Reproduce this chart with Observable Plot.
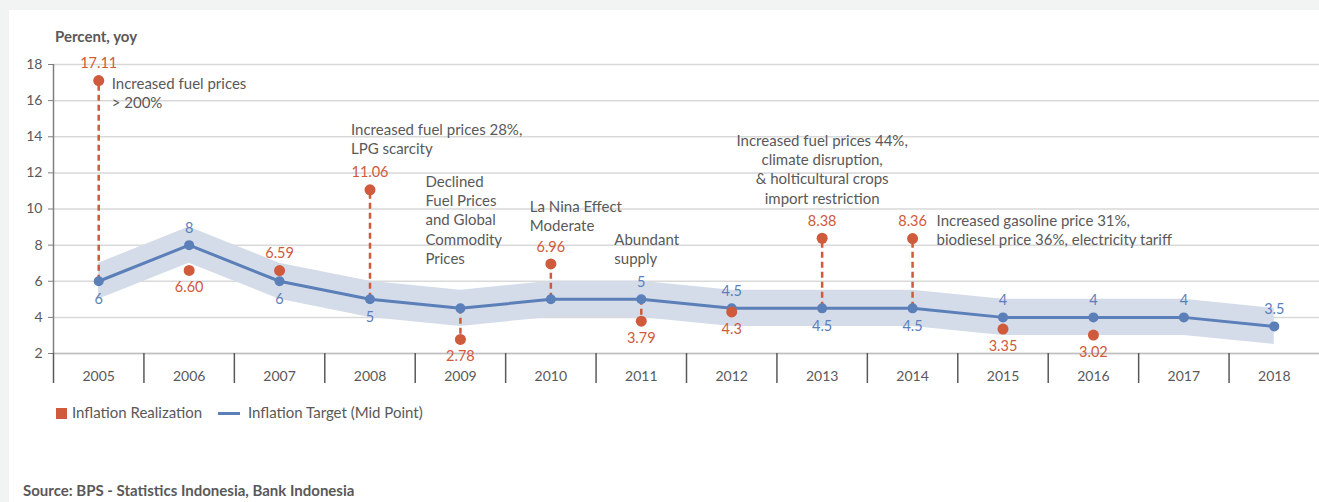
<!DOCTYPE html>
<html><head><meta charset="utf-8">
<script src="https://cdn.jsdelivr.net/npm/d3@7"></script>
<script src="https://cdn.jsdelivr.net/npm/@observablehq/plot@0.6"></script>
<style>
html,body{margin:0;overflow:hidden;}
body{background:#f2f4f4;font-family:Lato,"Open Sans",sans-serif;}
#wrap{position:relative;width:1319px;height:502px;overflow:hidden;}
#panel{position:absolute;left:9px;top:10px;width:1310px;height:492px;background:#fff;}
#chart{position:absolute;left:0;top:0;width:1319px;height:400px;}
#chart svg{max-width:none !important;display:block;}
.t{position:absolute;color:#595959;white-space:nowrap;line-height:1;}
.title{left:55px;top:29px;font-weight:bold;font-size:15px;}
.src{left:23px;top:483px;font-weight:bold;font-size:15px;}
.leg{top:405px;font-size:15px;}
.sw{position:absolute;}
</style></head>
<body>
<div id="wrap">
  <div id="panel"></div>
  <div id="chart"></div>
  <div class="t title">Percent, yoy</div>
  <div class="sw" style="left:56px;top:408px;width:11px;height:11px;background:#cf5a3c"></div>
  <div class="t leg" style="left:72px">Inflation Realization</div>
  <div class="sw" style="left:218px;top:412px;width:22px;height:3px;background:#5b7fb8"></div>
  <div class="t leg" style="left:248px">Inflation Target (Mid Point)</div>
  <div class="t src">Source: BPS - Statistics Indonesia, Bank Indonesia</div>
</div>
<script>
const years = [2005,2006,2007,2008,2009,2010,2011,2012,2013,2014,2015,2016,2017,2018];
const target = [6,8,6,5,4.5,5,5,4.5,4.5,4.5,4,4,4,3.5];
const targetLow = [5,7,5,4,3.5,4,4,3.5,3.5,3.5,3,3,3,2.5];
const targetHigh = [7,9,7,6,5.5,6,6,5.5,5.5,5.5,5,5,5,4.5];
const realization = [17.11,6.60,6.59,11.06,2.78,6.96,3.79,4.3,8.38,8.36,3.35,3.02,null,null];
const realLabels = ["17.11","6.60","6.59","11.06","2.78","6.96","3.79","4.3","8.38","8.36","3.35","3.02",null,null];
const targetLabels = ["6","8","6","5",null,null,"5","4.5","4.5","4.5","4","4","4","3.5"];
const yTicks = [2,4,6,8,10,12,14,16,18];
const dashedYears = [2005,2008,2009,2010,2011,2013,2014];
const realAboveYears = [2005,2007,2008,2010,2013,2014];
const targetAboveYears = [2006,2011,2012,2015,2016,2017,2018];
const annotations = [
  {year:2005, y:17.39, text:"Increased fuel prices\n> 200%", dx:13, anchor:"start"},
  {year:2008, y:14.85, text:"Increased fuel prices 28%,\nLPG scarcity", dx:-19, anchor:"start"},
  {year:2009, y:11.97, text:"Declined\nFuel Prices\nand Global\nCommodity\nPrices", dx:-35, anchor:"start"},
  {year:2010, y:10.58, text:"La Nina Effect\nModerate", dx:-21, anchor:"start"},
  {year:2011, y:8.76, text:"Abundant\nsupply", dx:-27, anchor:"start"},
  {year:2013, y:14.24, text:"Increased fuel prices 44%,\nclimate disruption,\n& holticultural crops\nimport restriction", dx:0, anchor:"middle"},
  {year:2014, y:9.81, text:"Increased gasoline price 31%,\nbiodiesel price 36%, electricity tariff", dx:24, anchor:"start"}
];

const RED = "#cf5a3c", BLUE = "#5b7fb8", BAND = "#d5dce9", GRAY = "#595959";
const rows = years.map((year,i)=>({year, target:target[i], lo:targetLow[i], hi:targetHigh[i],
  real:realization[i], realLabel:realLabels[i], targetLabel:targetLabels[i]}));
const realRows = rows.filter(d=>d.real!=null);
const dashRows = rows.filter(d=>dashedYears.includes(d.year));
const boundaries = years.map(y=>y-0.5);
const FONT = "Lato, 'Open Sans', sans-serif";

const chart = Plot.plot({
  width:1319, height:400,
  marginLeft:53, marginRight:0, marginTop:64, marginBottom:47,
  style:{background:"transparent", fontFamily:FONT, color:GRAY},
  x:{type:"linear", domain:[2004.5,2018.5]},
  y:{domain:[2,18]},
  marks:[
    Plot.gridY(yTicks, {stroke:"#d9d9d9", strokeOpacity:1, strokeWidth:1.5}),
    Plot.areaY(rows, {x:"year", y1:"lo", y2:"hi", fill:BAND}),
    Plot.ruleY([2], {stroke:"#bfbfbf", strokeWidth:1.5}),
    Plot.axisY({ticks:yTicks, tickSize:5, tickPadding:6, fontSize:14, color:GRAY, stroke:"#7f7f7f", label:null}),
    Plot.ruleX([2004.5], {stroke:"#7f7f7f", strokeWidth:1.5}),
    Plot.axisX({ticks:boundaries, tickSize:30, tickFormat:()=>"", stroke:"#595959", strokeWidth:1.5, label:null}),
    Plot.axisX({ticks:years, tickSize:0, tickPadding:18, tickFormat:d=>String(d), fontSize:14, color:GRAY, label:null}),
    Plot.ruleX(dashRows, {x:"year", y1:"target", y2:"real", stroke:RED, strokeWidth:2.5, strokeDasharray:"6,4"}),
    Plot.line(rows, {x:"year", y:"target", stroke:BLUE, strokeWidth:3}),
    Plot.dot(rows, {x:"year", y:"target", r:5, fill:BLUE}),
    Plot.dot(realRows, {x:"year", y:"real", r:5.5, fill:RED}),
    Plot.text(realRows.filter(d=>realAboveYears.includes(d.year)), {x:"year", y:"real", text:"realLabel", dy:-17, fill:RED, fontSize:14.5}),
    Plot.text(realRows.filter(d=>!realAboveYears.includes(d.year)), {x:"year", y:"real", text:"realLabel", dy:17, fill:RED, fontSize:14.5}),
    Plot.text(rows.filter(d=>d.targetLabel && targetAboveYears.includes(d.year)), {x:"year", y:"target", text:"targetLabel", dy:-17, fill:BLUE, fontSize:14.5}),
    Plot.text(rows.filter(d=>d.targetLabel && !targetAboveYears.includes(d.year)), {x:"year", y:"target", text:"targetLabel", dy:18, fill:BLUE, fontSize:14.5}),
    ...annotations.map(a => Plot.text([a], {x:"year", y:"y", text:"text", dx:a.dx, textAnchor:a.anchor, lineAnchor:"top", lineHeight:1.28, fill:GRAY, fontSize:15}))
  ]
});
document.getElementById("chart").appendChild(chart);
</script>
</body></html>
